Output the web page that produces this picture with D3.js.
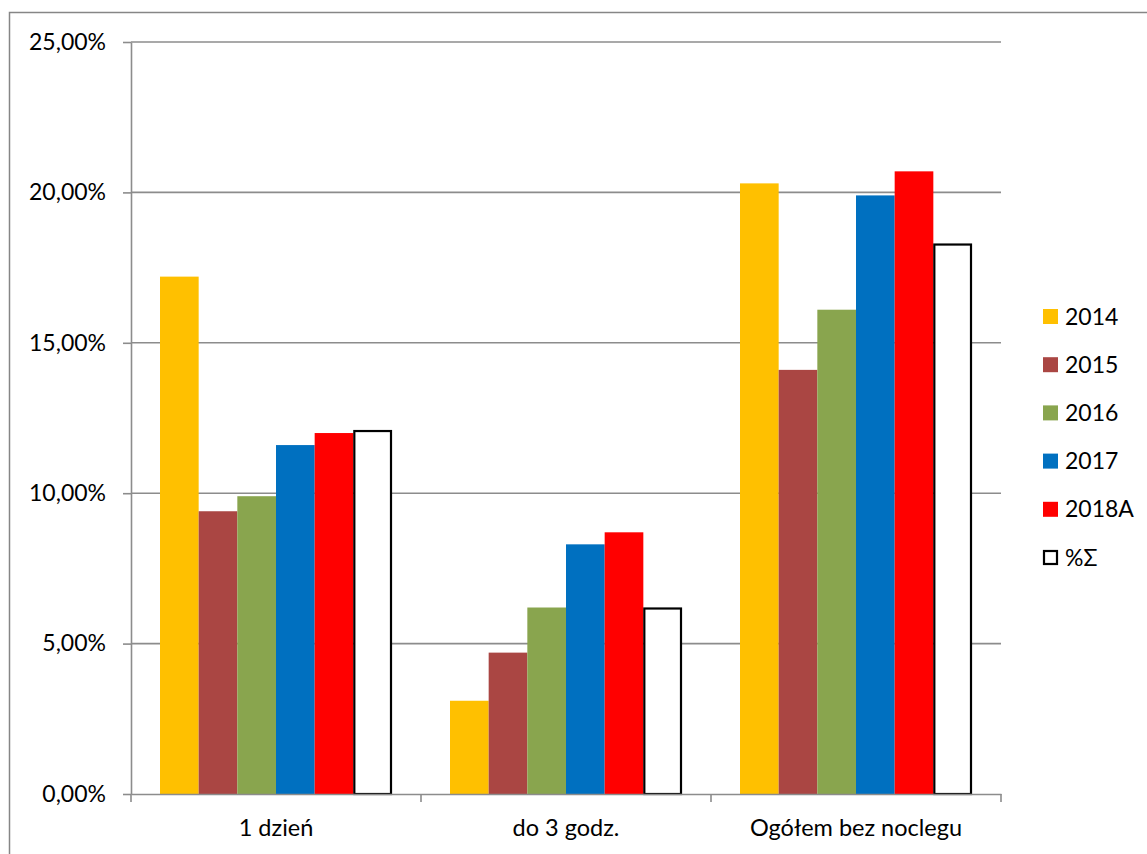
<!DOCTYPE html>
<html><head><meta charset="utf-8">
<script src="https://cdn.jsdelivr.net/npm/d3@7"></script>
<style>
body{margin:0;background:#fff;}
svg{display:block;font-family:Lato,"Open Sans",sans-serif;}
</style></head><body>
<svg id="c" width="1147" height="854"></svg>
<script>
const categories = ["1 dzień", "do 3 godz.", "Ogółem bez noclegu"];
const seriesNames = ["2014", "2015", "2016", "2017", "2018A", "%Σ"];
const v2014 = [17.2, 3.1, 20.3];
const v2015 = [9.4, 4.7, 14.1];
const v2016 = [9.9, 6.2, 16.1];
const v2017 = [11.6, 8.3, 19.9];
const v2018A = [12.0, 8.7, 20.7];
const vSigma = [12.1, 6.2, 18.3];
const yTicks = [0, 5, 10, 15, 20, 25];
const colors = ["#FFC000", "#AA4643", "#89A54E", "#0070C0", "#FF0000", "#FFFFFF"];

const seriesValues = [v2014, v2015, v2016, v2017, v2018A, vSigma];
const svg = d3.select("#c");
const L = 131, R = 1001, T = 42, B = 794;

// outer border (chart area, partly clipped)
svg.append("rect").attr("x", 9.5).attr("y", 12.5).attr("width", 1300).attr("height", 1000)
  .attr("fill", "none").attr("stroke", "#868686").attr("stroke-width", 1.5);

const x0 = d3.scaleBand().domain(categories).range([L, R]).paddingInner(0).paddingOuter(0);
const x1 = d3.scaleBand().domain(seriesNames).range([0, x0.bandwidth()]).paddingInner(0).paddingOuter(0.75);
const y = d3.scaleLinear().domain([0, 25]).range([B, T]);

// gridlines
svg.append("g").selectAll("line").data(yTicks.filter(d => d > 0)).join("line")
  .attr("x1", L).attr("x2", R).attr("y1", d => y(d)).attr("y2", d => y(d))
  .attr("stroke", "#8c8c8c").attr("stroke-width", 1.6);

// bars
const groups = svg.append("g").selectAll("g").data(categories).join("g")
  .attr("transform", d => `translate(${x0(d)},0)`);
groups.selectAll("rect").data((c, ci) => seriesNames.map((s, si) => ({s, si, v: seriesValues[si][ci]})))
  .join("rect")
  .attr("x", d => x1(d.s) + (d.si === 5 ? 1 : 0))
  .attr("width", d => x1.bandwidth() - (d.si === 5 ? 2 : 0))
  .attr("y", d => y(d.v) + (d.si === 5 ? 1 : 0))
  .attr("height", d => B - y(d.v) - (d.si === 5 ? 1 : 0))
  .attr("fill", d => colors[d.si])
  .attr("stroke", d => d.si === 5 ? "#000" : "none")
  .attr("stroke-width", 2.2);

// y axis
const yAxis = svg.append("g").attr("transform", `translate(${L},0)`)
  .call(d3.axisLeft(y).tickValues(yTicks).tickSize(8).tickSizeOuter(0).tickPadding(17)
    .tickFormat(d => d3.format(".2f")(d).replace(".", ",") + "%"));
yAxis.selectAll("path,line").attr("stroke", "#8c8c8c").attr("stroke-width", 1.6);
yAxis.selectAll("text").attr("font-size", 23).attr("fill", "#000").attr("font-family", "Lato");

// x axis
const xAxis = svg.append("g").attr("transform", `translate(0,${B})`)
  .call(d3.axisBottom(x0).tickSize(0).tickPadding(25));
xAxis.select("path").attr("stroke", "#8c8c8c").attr("stroke-width", 1.6);
xAxis.selectAll("text").attr("font-size", 23.5).attr("fill", "#000").attr("font-family", "Lato");
// boundary ticks
const bounds = categories.map(c => x0(c)).concat([R]);
svg.append("g").selectAll("line").data(bounds).join("line")
  .attr("x1", d => d).attr("x2", d => d).attr("y1", B).attr("y2", B + 8)
  .attr("stroke", "#8c8c8c").attr("stroke-width", 1.6);

// legend
const leg = svg.append("g").selectAll("g").data(seriesNames).join("g")
  .attr("transform", (d, i) => `translate(1043,${316.5 + i * 48.2})`);
leg.append("rect").attr("x", d => d === "%Σ" ? 1 : 0).attr("y", d => d === "%Σ" ? -6.5 : -7.5)
  .attr("width", d => d === "%Σ" ? 13 : 15).attr("height", d => d === "%Σ" ? 13 : 15)
  .attr("fill", (d, i) => colors[i])
  .attr("stroke", d => d === "%Σ" ? "#000" : "none").attr("stroke-width", 2.2);
leg.append("text").attr("x", 22).attr("y", 0).attr("dy", "0.35em")
  .attr("font-size", 23).attr("font-family", "Lato").attr("fill", "#000").text(d => d);
</script>
</body></html>
